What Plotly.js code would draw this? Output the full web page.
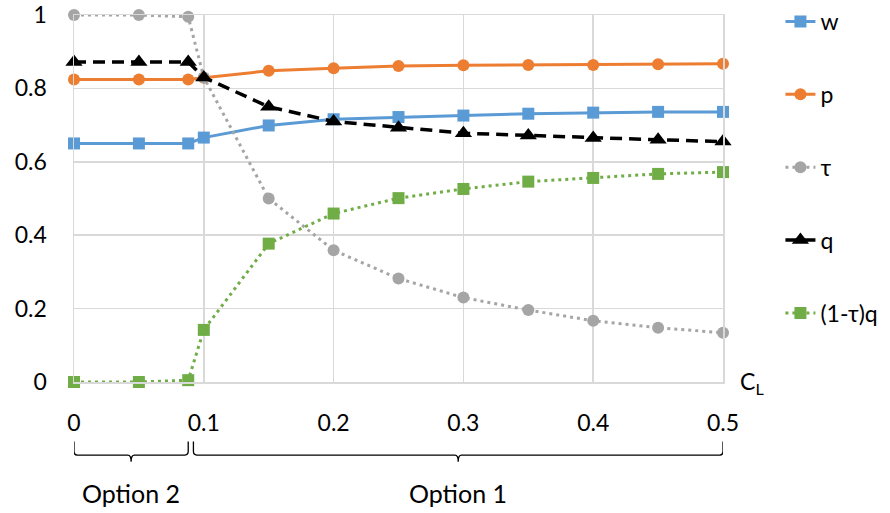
<!DOCTYPE html>
<html>
<head>
<meta charset="utf-8">
<script src="https://cdn.plot.ly/plotly-3.0.1.min.js"></script>
<style>
html,body{margin:0;padding:0;background:#fff;}
#chart{width:890px;height:513px;}
</style>
</head>
<body>
<div id="chart"></div>
<script>
// Data
const cL = [0, 0.05, 0.088, 0.1, 0.15, 0.2, 0.25, 0.3, 0.35, 0.4, 0.45, 0.5];
const wVals = [0.65, 0.65, 0.65, 0.666, 0.699, 0.716, 0.722, 0.726, 0.731, 0.734, 0.736, 0.736];
const pVals = [0.824, 0.824, 0.824, 0.829, 0.848, 0.855, 0.861, 0.863, 0.864, 0.864, 0.866, 0.867];
const tauVals = [1, 1, 0.995, 0.83, 0.5, 0.359, 0.282, 0.23, 0.196, 0.167, 0.148, 0.134];
const qVals = [0.872, 0.872, 0.872, 0.83, 0.75, 0.71, 0.693, 0.678, 0.672, 0.665, 0.66, 0.655];
const omtqVals = [0, 0, 0.005, 0.142, 0.377, 0.459, 0.501, 0.526, 0.546, 0.556, 0.567, 0.572];
const seriesNames = ['w', 'p', 'τ', 'q', '(1-τ)q'];
const xTickVals = [0, 0.1, 0.2, 0.3, 0.4, 0.5];
const yTickVals = [0, 0.2, 0.4, 0.6, 0.8, 1];
const optionRanges = [[0, 0.088, 'Option 2'], [0.092, 0.5, 'Option 1']];

const FONT = 'Lato, "Liberation Sans", sans-serif';
const FS = 23;
const GRID = '#D9D9D9';

const traces = [
  {x: cL, y: wVals, name: seriesNames[0], legendgroup: 'a', mode: 'lines+markers',
   line: {color: '#5B9BD5', width: 3}, marker: {symbol: 'square', size: 12, color: '#5B9BD5'}},
  {x: cL, y: pVals, name: seriesNames[1], legendgroup: 'b', mode: 'lines+markers',
   line: {color: '#ED7D31', width: 3}, marker: {symbol: 'circle', size: 12, color: '#ED7D31'}},
  {x: cL, y: tauVals, name: seriesNames[2], legendgroup: 'c', mode: 'lines+markers',
   line: {color: '#A5A5A5', width: 3, dash: '3px,4px'}, marker: {symbol: 'circle', size: 12, color: '#A5A5A5'}},
  {x: cL, y: qVals, name: seriesNames[3], legendgroup: 'd', mode: 'lines+markers',
   line: {color: '#000000', width: 3.5, dash: '12px,7px'}, marker: {symbol: 'triangle-up', size: 15, color: '#000000'}},
  {x: cL, y: omtqVals, name: seriesNames[4], legendgroup: 'e', mode: 'lines+markers',
   line: {color: '#70AD47', width: 3, dash: '3px,4px'}, marker: {symbol: 'square', size: 12, color: '#70AD47'}}
].map(t => Object.assign(t, {type: 'scatter', cliponaxis: false, hoverinfo: 'skip'}));

// Braces below the x-axis (paper y, data x)
const yTop = -0.162, yMid = -0.199, yTip = -0.217;
const rx = 0.0025, ry = 0.01;
function bracePath(x0, x1) {
  const xc = (x0 + x1) / 2;
  return `M${x0},${yTop} L${x0},${yMid + ry} Q${x0},${yMid} ${x0 + rx},${yMid} ` +
         `L${xc - rx},${yMid} Q${xc},${yMid} ${xc},${yTip} Q${xc},${yMid} ${xc + rx},${yMid} ` +
         `L${x1 - rx},${yMid} Q${x1},${yMid} ${x1},${yMid + ry} L${x1},${yTop}`;
}
const shapes = optionRanges.map(r => ({
  type: 'path', xref: 'x', yref: 'paper', path: bracePath(r[0], r[1]),
  line: {color: '#000', width: 1.3}
}));
const annotations = optionRanges.map(r => ({
  xref: 'x', yref: 'paper', x: (r[0] + r[1]) / 2, y: -0.302, text: r[2],
  showarrow: false, font: {family: FONT, size: 25, color: '#000'}, xanchor: 'center', yanchor: 'middle'
}));
annotations.push({
  xref: 'paper', yref: 'paper', x: 1.023, y: 0, text: 'C<sub>L</sub>', showarrow: false,
  xanchor: 'left', yanchor: 'middle', font: {family: FONT, size: FS, color: '#000'}
});

const layout = {
  width: 890, height: 513,
  margin: {l: 74, r: 167, t: 15, b: 131, pad: 0, autoexpand: false},
  paper_bgcolor: '#fff', plot_bgcolor: '#fff',
  font: {family: FONT, size: FS, color: '#000'},
  xaxis: {
    range: [0, 0.5], tickvals: xTickVals, ticktext: xTickVals.map(String),
    showgrid: true, gridcolor: GRID, gridwidth: 1.5, zeroline: false,
    showline: true, linecolor: GRID, linewidth: 1.5, mirror: true, automargin: false,
    ticks: '', ticklabelstandoff: 20, tickfont: {family: FONT, size: FS, color: '#000'}, fixedrange: true
  },
  yaxis: {
    range: [0, 1], tickvals: yTickVals, ticktext: yTickVals.map(String),
    showgrid: true, gridcolor: GRID, gridwidth: 1.5, zeroline: false,
    showline: true, linecolor: GRID, linewidth: 1.5, mirror: true, automargin: false,
    ticks: '', ticklabelstandoff: 21, tickfont: {family: FONT, size: FS, color: '#000'}, fixedrange: true
  },
  showlegend: true,
  legend: {
    x: 1.0885, xanchor: 'left', y: 1.041, yanchor: 'top',
    traceorder: 'grouped', tracegroupgap: 40, maxheight: 500,
    font: {family: FONT, size: FS, color: '#000'},
    bgcolor: 'rgba(0,0,0,0)', borderwidth: 0
  },
  shapes: shapes,
  annotations: annotations
};

Plotly.newPlot('chart', traces, layout, {displayModeBar: false, staticPlot: true});
</script>
</body>
</html>
